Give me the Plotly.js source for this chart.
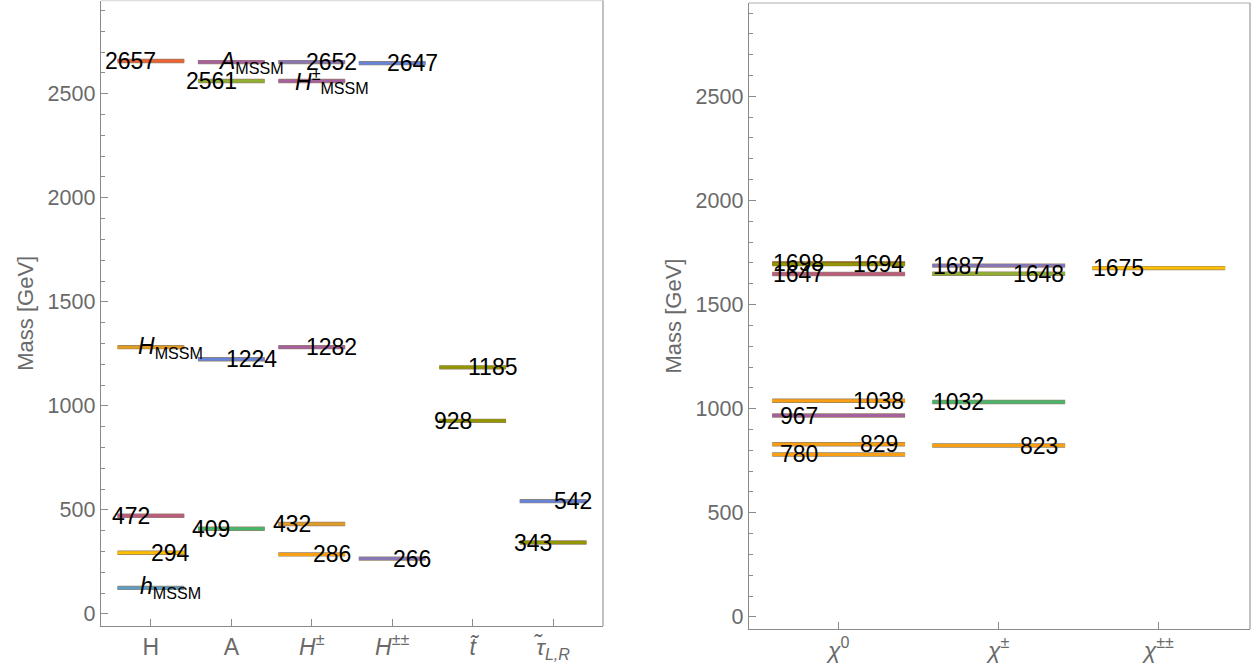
<!DOCTYPE html>
<html>
<head>
<meta charset="utf-8">
<script src="https://cdn.plot.ly/plotly-3.0.1.min.js"></script>
<style>html,body{margin:0;padding:0;background:#fff;}#chart{width:1258px;height:668px;}</style>
</head>
<body>
<div id="chart"></div>
<script>
// ---------- DATA ----------
// Left panel: scalar / sfermion mass levels
const leftTickText = ['H', 'A', '<i>H</i><sup>±</sup>', '<i>H</i><sup>±±</sup>', '<i>t̃</i>', '<i>τ̃</i><sub><i>L,R</i></sub>'];
const leftCategory = [1, 1, 1, 1, 1, 2, 2, 2, 2, 3, 3, 3, 3, 3, 4, 4, 5, 5, 6, 6];
const leftMass = [2657, 1282, 472, 294, 125, 2652, 2561, 1224, 409, 2652, 2561, 1282, 432, 286, 2647, 266, 1185, 928, 542, 343];
const leftLabels = ['2657', '<i>H</i><sub>MSSM</sub>', '472', '294', '<i>h</i><sub>MSSM</sub>',
  '<i>A</i><sub>MSSM</sub>', '2561', '1224', '409',
  '2652', '<i>H</i><sup>±</sup><sub>MSSM</sub>', '1282', '432', '286',
  '2647', '266', '1185', '928', '542', '343'];
const leftLabelSide = [-1, 1, -1, 1, 1, 1, -1, 1, -1, 1, 1, 1, -1, 1, 1, 1, 1, -1, 1, -1];
const leftColors = ['#EB6235', '#E19C24', '#BC5B80', '#FFBF00', '#5D9EC7',
  '#A5609D', '#8FB032', '#6685D9', '#47B66D',
  '#8778B3', '#A5609D', '#A5609D', '#E19C24', '#F89F13',
  '#6685D9', '#8778B3', '#929600', '#929600', '#6685D9', '#929600'];

// Right panel: neutralino / chargino levels
const rightTickText = ['<i>χ</i><sup>0</sup>', '<i>χ</i><sup>±</sup>', '<i>χ</i><sup>±±</sup>'];
const rightCategory = [1, 1, 1, 1, 1, 1, 1, 2, 2, 2, 2, 3];
const rightMass = [1698, 1694, 1647, 1038, 967, 829, 780, 1687, 1648, 1032, 823, 1675];
const rightLabels = ['1698', '1694', '1647', '1038', '967', '829', '780', '1687', '1648', '1032', '823', '1675'];
const rightLabelSide = [-1, 1, -1, 1, -1, 1, -1, -1, 1, -1, 1, -1];
const rightColors = ['#E19C24', '#929600', '#BC5B80', '#F89F13', '#A5609D', '#F89F13', '#F89F13',
  '#8778B3', '#8FB032', '#47B66D', '#F89F13', '#FFBF00'];

const yTicks = [0, 500, 1000, 1500, 2000, 2500];

// ---------- BUILD ----------
const HALF = 0.415, OFF = 0.25;
const FONT = '"Liberation Sans", Arial, sans-serif';
const traces = [];
const annotations = [];

function addPanel(cats, masses, labels, sides, colors, xa, ya) {
  for (let i = 0; i < masses.length; i++) {
    const c = cats[i], m = masses[i];
    traces.push({x: [c - HALF, c + HALF], y: [m, m], xaxis: xa, yaxis: ya, mode: 'lines',
      line: {color: 'rgba(105,75,40,0.7)', width: 4.4}, hoverinfo: 'skip', showlegend: false});
    traces.push({x: [c - HALF, c + HALF], y: [m, m], xaxis: xa, yaxis: ya, mode: 'lines',
      line: {color: colors[i], width: 3.0}, showlegend: false});
  }
  for (let i = 0; i < masses.length; i++) {
    annotations.push({x: cats[i] + sides[i] * OFF, y: masses[i], xref: xa, yref: ya,
      text: labels[i], showarrow: false, xanchor: 'center', yanchor: 'middle', yshift: 0,
      font: {family: FONT, size: 23, color: '#000'}});
  }
}
addPanel(leftCategory, leftMass, leftLabels, leftLabelSide, leftColors, 'x', 'y');
addPanel(rightCategory, rightMass, rightLabels, rightLabelSide, rightColors, 'x2', 'y2');

const yTickFont = {family: FONT, size: 21.5, color: '#6a6a6a'};
const xTickFont = {family: FONT, size: 23, color: '#6a6a6a'};
const yRange = [-58, 2948];
function yAxis(domain, anchor) {
  return {domain: domain, anchor: anchor, range: yRange, tickvals: yTicks, ticks: 'inside', ticklen: 7,
    tickcolor: '#8a8a8a', tickwidth: 1, showline: true, linecolor: '#8a8a8a', linewidth: 1.3,
    showgrid: false, zeroline: false, tickfont: yTickFont,
    minor: {dtick: 100, ticks: 'inside', ticklen: 4, tickcolor: '#8a8a8a', showgrid: false},
    title: {text: 'Mass [GeV]', font: {family: FONT, size: 22, color: '#6a6a6a'}, standoff: 8}};
}
function xAxis(domain, anchor, n, range, text) {
  const vals = [];
  for (let i = 1; i <= n; i++) vals.push(i);
  return {domain: domain, anchor: anchor, range: range, tickvals: vals, ticktext: text, ticks: 'inside',
    ticklen: 7, tickcolor: '#8a8a8a', showline: true, linecolor: '#8a8a8a', linewidth: 1.3,
    showgrid: false, zeroline: false, tickfont: xTickFont};
}

const W = 1258, H = 668;
const layout = {
  width: W, height: H, margin: {l: 0, r: 0, t: 0, b: 0}, paper_bgcolor: '#fff', plot_bgcolor: '#fff',
  showlegend: false,
  xaxis: xAxis([101 / W, 603 / W], 'y', leftTickText.length, [0.38, 6.62], leftTickText),
  yaxis: yAxis([(H - 626) / H, (H - 0.5) / H], 'x'),
  xaxis2: xAxis([749 / W, 1250 / W], 'y2', rightTickText.length, [0.44, 3.57], rightTickText),
  yaxis2: yAxis([(H - 629) / H, (H - 3) / H], 'x2'),
  annotations: annotations,
  shapes: [
    {type: 'line', xref: 'x domain', yref: 'y domain', x0: 0, x1: 1, y0: 1, y1: 1, line: {color: '#dddddd', width: 1.3}},
    {type: 'line', xref: 'x domain', yref: 'y domain', x0: 1, x1: 1, y0: 0, y1: 1, line: {color: '#a0a0a0', width: 1.3}},
    {type: 'line', xref: 'x2 domain', yref: 'y2 domain', x0: 0, x1: 1, y0: 1, y1: 1, line: {color: '#c8c8c8', width: 1.3}},
    {type: 'line', xref: 'x2 domain', yref: 'y2 domain', x0: 1, x1: 1, y0: 0, y1: 1, line: {color: '#a0a0a0', width: 1.3}}
  ]
};
Plotly.newPlot('chart', traces, layout, {displayModeBar: false, staticPlot: true});
</script>
</body>
</html>
